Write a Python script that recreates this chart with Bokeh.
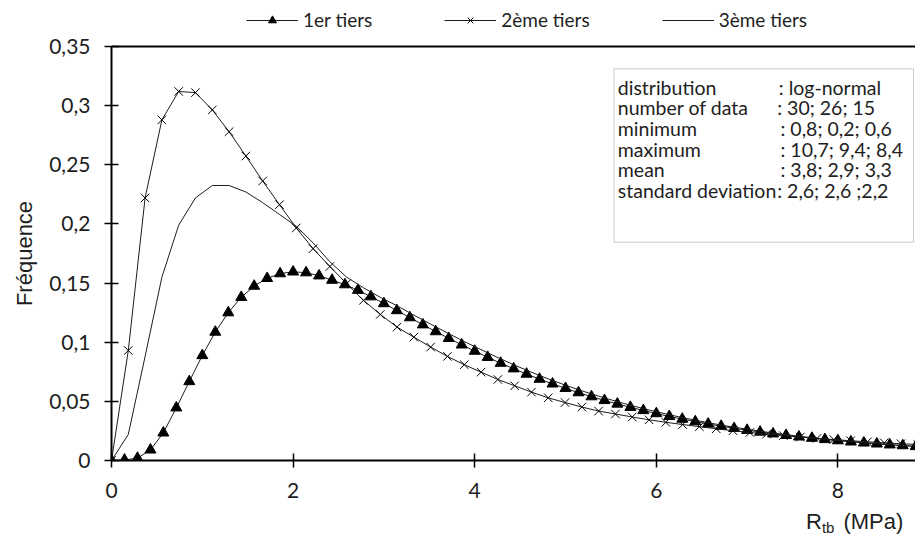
from bokeh.plotting import figure
from bokeh.layouts import column
from bokeh.models import (Range1d, FixedTicker, Span, Legend, LegendItem, Label,
                          BoxAnnotation, Title, Div)
from bokeh.embed import file_html
from bokeh.resources import INLINE

# ---------------- data ----------------
series_names = ["1er tiers", "2ème tiers", "3ème tiers"]

x_tiers1 = [0, 0.143, 0.286, 0.429, 0.571, 0.714, 0.857, 1.0,
            1.143, 1.286, 1.429, 1.571, 1.714, 1.857, 2.0,
            2.143, 2.286, 2.429, 2.571, 2.714, 2.857, 3.0,
            3.143, 3.286, 3.429, 3.571, 3.714, 3.857, 4.0,
            4.143, 4.286, 4.429, 4.571, 4.714, 4.857, 5.0,
            5.143, 5.286, 5.429, 5.571, 5.714, 5.857, 6.0,
            6.143, 6.286, 6.429, 6.571, 6.714, 6.857, 7.0,
            7.143, 7.286, 7.429, 7.571, 7.714, 7.857, 8.0,
            8.143, 8.286, 8.429, 8.571, 8.714, 8.857]
y_tiers1 = [0, 0.0005, 0.002, 0.009, 0.0234, 0.0446, 0.0668, 0.0888, 0.1086, 0.125,
            0.138, 0.1475, 0.154, 0.158, 0.1595, 0.1588, 0.1562, 0.1525, 0.1487, 0.1440,
            0.1385, 0.1327, 0.1268, 0.1208, 0.1148, 0.1090, 0.1033, 0.0978, 0.0925, 0.0873,
            0.0823, 0.0776, 0.0731, 0.0688, 0.0648, 0.0610, 0.0574, 0.0540, 0.0508, 0.0478,
            0.0450, 0.0423, 0.0397, 0.0373, 0.0350, 0.0329, 0.0309, 0.0290, 0.0272, 0.0256,
            0.0241, 0.0226, 0.0213, 0.0200, 0.0189, 0.0178, 0.0168, 0.0158, 0.0149, 0.0141,
            0.0133, 0.0126, 0.0119]

x_tiers2 = [0, 0.185, 0.37, 0.555, 0.74, 0.925, 1.11, 1.295, 1.48, 1.665,
            1.85, 2.035, 2.22, 2.405, 2.59, 2.775, 2.96, 3.145, 3.33, 3.515,
            3.7, 3.885, 4.07, 4.255, 4.44, 4.625, 4.81, 4.995, 5.18, 5.365,
            5.55, 5.735, 5.92, 6.105, 6.29, 6.475, 6.66, 6.845, 7.03, 7.215,
            7.4, 7.585, 7.77, 7.955, 8.14, 8.325, 8.51, 8.695, 8.88]
y_tiers2 = [0, 0.093, 0.222, 0.288, 0.312, 0.311, 0.2964, 0.278, 0.2574, 0.2363,
            0.2163, 0.1966, 0.1791, 0.1640, 0.1495, 0.1354, 0.1235, 0.1128, 0.1043, 0.0959,
            0.0880, 0.0810, 0.0747, 0.0685, 0.0632, 0.0578, 0.0530, 0.0490, 0.0452, 0.0418,
            0.0393, 0.0368, 0.0344, 0.0323, 0.0304, 0.0286, 0.0268, 0.0252, 0.0237, 0.0223,
            0.0210, 0.0198, 0.0187, 0.0177, 0.0167, 0.0158, 0.0150, 0.0142, 0.0135]

x_tiers3 = [0, 0.185, 0.37, 0.555, 0.74, 0.925, 1.11, 1.295, 1.48, 1.665,
            1.85, 2.035, 2.22, 2.405, 2.59, 2.775, 2.96, 3.145, 3.33, 3.515,
            3.7, 3.885, 4.07, 4.255, 4.44, 4.625, 4.81, 4.995, 5.18, 5.365,
            5.55, 5.735, 5.92, 6.105, 6.29, 6.475, 6.66, 6.845, 7.03, 7.215,
            7.4, 7.585, 7.77, 7.955, 8.14, 8.325, 8.51, 8.695, 8.88]
y_tiers3 = [0, 0.022, 0.088, 0.155, 0.199, 0.222, 0.2325, 0.2325, 0.227, 0.218,
            0.208, 0.198, 0.184, 0.168, 0.155, 0.146, 0.138, 0.1308, 0.1229, 0.1153,
            0.1078, 0.1006, 0.0937, 0.0870, 0.0806, 0.0746, 0.0690, 0.0638, 0.0589, 0.0544,
            0.0502, 0.0463, 0.0427, 0.0394, 0.0362, 0.0334, 0.0307, 0.0283, 0.0261, 0.0240,
            0.0221, 0.0204, 0.0188, 0.0174, 0.0161, 0.0149, 0.0138, 0.0128, 0.0119]

x_ticks = [0, 2, 4, 6, 8]
x_tick_labels = ["0", "2", "4", "6", "8"]
y_ticks = [0, 0.05, 0.1, 0.15, 0.2, 0.25, 0.3, 0.35]
y_tick_labels = ["0", "0,05", "0,1", "0,15", "0,2", "0,25", "0,3", "0,35"]

stats_names = ["distribution", "number of data", "minimum", "maximum", "mean",
               "standard deviation"]
stats_values = [": log-normal", ": 30; 26; 15", ":  0,8; 0,2; 0,6", ":  10,7; 9,4; 8,4",
                ":  3,8; 2,9; 3,3", ": 2,6; 2,6 ;2,2"]

y_title = "Fréquence"
x_title_main, x_title_sub, x_title_unit = "R", "tb", "(MPa)"

# ---------------- layout constants (pixels) ----------------
FIG_W, TOTAL_H = 915, 535
MAIN_H = 508                       # main figure; a thin strip below holds the x title
FR_LEFT = 111                      # left edge of the plotting frame
AXIS_TOP, AXIS_BOTTOM = 46, 460    # pixel rows of y = 0.35 and y = 0
FR_W = FIG_W - FR_LEFT
PX_PER_X = 90.8
Y_AXIS_MAX = 0.35
PX_PER_Y = (AXIS_BOTTOM - AXIS_TOP) / Y_AXIS_MAX
X_MAX = FR_W / PX_PER_X
Y_FRAME_MAX = AXIS_BOTTOM / PX_PER_Y      # frame reaches the top of the figure


def dx(px):
    return (px - FR_LEFT) / PX_PER_X


def dy(py):
    return (AXIS_BOTTOM - py) / PX_PER_Y


INK = "#1e1e1e"
TICK_FONT = "Lato"
TITLE_FONT = "Liberation Sans"

p = figure(width=FIG_W, height=MAIN_H, output_backend="svg", toolbar_location=None,
           x_range=Range1d(0, X_MAX), y_range=Range1d(0, Y_FRAME_MAX),
           min_border_left=FR_LEFT, min_border_top=0, min_border_right=0,
           min_border_bottom=MAIN_H - AXIS_BOTTOM)
p.outline_line_color = None
p.xgrid.grid_line_color = None
p.ygrid.grid_line_color = None
p.background_fill_color = "white"
p.border_fill_color = "white"

for ax in (p.xaxis[0], p.yaxis[0]):
    ax.axis_line_width = 2
    ax.axis_line_color = "black"
    ax.major_tick_line_color = "black"
    ax.major_tick_line_width = 1.5
    ax.major_tick_in = 7
    ax.major_tick_out = 7
    ax.minor_tick_line_color = None
    ax.major_label_text_font = TICK_FONT
    ax.major_label_text_font_size = "21px"
    ax.major_label_text_color = INK
    ax.major_label_standoff = 15
p.yaxis.major_label_standoff = 14

p.xaxis.ticker = FixedTicker(ticks=x_ticks)
p.xaxis.major_label_overrides = dict(zip(x_ticks, x_tick_labels))
p.yaxis.ticker = FixedTicker(ticks=y_ticks)
p.yaxis.major_label_overrides = dict(zip(y_ticks, y_tick_labels))
p.yaxis.bounds = (0, Y_AXIS_MAX)

# y title, centred on the 0 .. 0.35 span (not on the taller frame)
TITLE_PX = 22
title_len = 4.78 * TITLE_PX
p.add_layout(Title(text=y_title, align="left", vertical_align="top",
                   offset=(AXIS_BOTTOM - (AXIS_TOP + AXIS_BOTTOM) / 2) - title_len / 2,
                   text_font=TITLE_FONT, text_font_size=f"{TITLE_PX}px",
                   text_font_style="normal", text_color=INK, standoff=16), "left")

# top border of the plot area
p.add_layout(Span(location=Y_AXIS_MAX, dimension="width", line_color="black", line_width=2))

# ---------------- series ----------------
r1l = p.line(x_tiers1, y_tiers1, line_color=INK, line_width=1)
r1m = p.scatter(x_tiers1, y_tiers1, marker="triangle", size=11,
                fill_color="black", line_color="black")
r2l = p.line(x_tiers2, y_tiers2, line_color=INK, line_width=1)
r2m = p.scatter(x_tiers2, y_tiers2, marker="x", size=12, line_color="black", line_width=1)
r3l = p.line(x_tiers3, y_tiers3, line_color=INK, line_width=1)

legend = Legend(items=[LegendItem(label=series_names[0], renderers=[r1l, r1m]),
                       LegendItem(label=series_names[1], renderers=[r2l, r2m]),
                       LegendItem(label=series_names[2], renderers=[r3l])],
                orientation="horizontal", location=(135, AXIS_BOTTOM - 31),
                glyph_width=52, glyph_height=20, label_height=20, label_standoff=5,
                spacing=72, padding=0, margin=0, border_line_color=None,
                background_fill_alpha=0,
                label_text_font=TICK_FONT, label_text_font_size="19px",
                label_text_color=INK)
p.add_layout(legend, "center")

# ---------------- statistics text box ----------------
p.add_layout(BoxAnnotation(left=dx(613.5), right=dx(913), top=dy(68.3), bottom=dy(241.7),
                           fill_color="white", fill_alpha=1, line_color="#555555",
                           line_width=1))
row_y = [86.7, 107.4, 128.0, 148.7, 169.3, 190.0]
colon_x = [778.3, 776.7, 780.0, 780.0, 780.0, 776.7]
for name, val, ry, cx in zip(stats_names, stats_values, row_y, colon_x):
    p.add_layout(Label(x=dx(617.3), y=dy(ry), text=name, text_font=TICK_FONT,
                       text_font_size="19.5px", text_color=INK, text_baseline="middle"))
    p.add_layout(Label(x=dx(cx), y=dy(ry), text=val, text_font=TICK_FONT,
                       text_font_size="19.5px", text_color=INK, text_baseline="middle"))

# ---------------- x axis title strip (with subscript) ----------------
STRIP_H = TOTAL_H - MAIN_H
x_title_html = (
    f'<div style="margin:0;padding:0 0 0 806px;font-family:\'{TITLE_FONT}\';'
    f'font-size:22px;line-height:{STRIP_H}px;color:{INK};white-space:nowrap;">'
    f'{x_title_main}<span style="font-size:15px;position:relative;top:4px;">'
    f'{x_title_sub}</span><span style="margin-left:9px;">{x_title_unit}</span></div>'
)
strip = Div(text=x_title_html, width=FIG_W, height=STRIP_H, margin=0)

layout = column(p, strip, spacing=0)
open("out.html", "w").write(file_html(layout, INLINE))
